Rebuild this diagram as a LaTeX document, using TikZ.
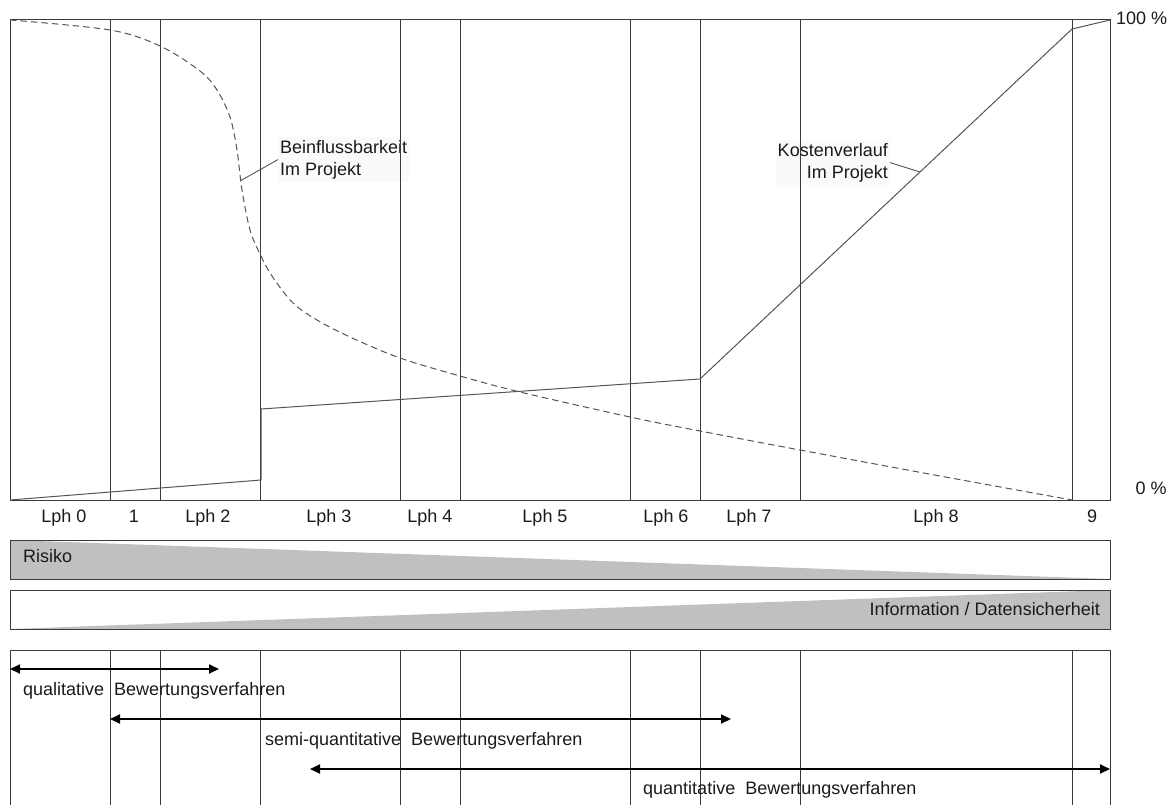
\documentclass[tikz,border=0pt]{standalone}
\usepackage{fontspec}
\setmainfont{Liberation Sans}
\usetikzlibrary{arrows.meta}
\definecolor{barfill}{HTML}{C0C0C0}
\definecolor{framecol}{HTML}{3A3A3A}
\definecolor{curvecol}{HTML}{555555}
\definecolor{textcol}{HTML}{1A1A1A}
\definecolor{notefill}{HTML}{FAFAFA}
\begin{document}
\begin{tikzpicture}[x=1pt,y=-1pt,
  every node/.style={font=\fontsize{18}{22}\selectfont, text=textcol, inner sep=0pt},
  label/.style={text height=13pt, text depth=3.5pt},
  frameline/.style={draw=framecol, line width=1pt},
  gridline/.style={draw=framecol, line width=0.9pt},
  costline/.style={draw=curvecol, line width=1pt, line join=round},
  influence/.style={draw=curvecol, line width=1pt, dash pattern=on 6.5pt off 4pt},
  leader/.style={draw=curvecol, line width=0.9pt},
  band/.style={draw=framecol, line width=1pt},
  wedge/.style={fill=barfill, draw=none},
  span/.style={draw=black, line width=1.8pt,
    {Triangle[length=10pt,width=9pt]}-{Triangle[length=10pt,width=9pt]}},
  note/.style={fill=notefill, inner xsep=2pt, inner ysep=3pt}]
\useasboundingbox (0,0) rectangle (1175,805);

% ---------- annotation texts (drawn first, grid lines run over them)
\node[note, align=left, anchor=north west] (beinfl) at (278,137)
  {Beinflussbarkeit\\Im Projekt};
\node[note, align=right, anchor=north east] (kosten) at (890,140)
  {Kostenverlauf\\Im Projekt};

% ---------- upper chart frame and phase boundaries
\draw[frameline] (10,20) rectangle (1110,500);
\foreach \x in {110,160,260,400,460,630,700,800,1072}
  \draw[gridline] (\x,20) -- (\x,500);

% ---------- cost curve
\draw[costline] (10,500) -- (261,480) -- (261,409) -- (700,379)
  -- (1072,29) -- (1110,20);

% ---------- influence curve
\draw[influence] plot[smooth, tension=0.55] coordinates {
  (10,20) (110,30) (160,46) (200,71) (217,90) (230,117) (237,150)
  (242,190) (250,230) (260,254) (272,276) (293,303) (317,320)
  (350,337) (400,358) (460,376) (520,392) (630,417) (700,431)
  (800,450) (940,476) (1072,500)};

% ---------- leaders from the notes to the curves
\coordinate (bcurve) at (240,181);
\coordinate (kcurve) at (920,172);
\draw[leader] (beinfl.west) -- (bcurve);
\draw[leader] (kosten.east) -- (kcurve);

% ---------- axis labels
\node[label, anchor=west] (p100) at (1116,20) {100 \%};
\node[label] (p0) at (1151,490) {0 \%};

% ---------- phase labels
\node[label] (lph0) at (64,518) {Lph 0};
\node[label] (lph1) at (134,518) {1};
\node[label] (lph2) at (208,518) {Lph 2};
\node[label] (lph3) at (329,518) {Lph 3};
\node[label] (lph4) at (430,518) {Lph 4};
\node[label] (lph5) at (545,518) {Lph 5};
\node[label] (lph6) at (666,518) {Lph 6};
\node[label] (lph7) at (749,518) {Lph 7};
\node[label] (lph8) at (936,518) {Lph 8};
\node[label] (lph9) at (1092,518) {9};

% ---------- risk band (decreasing)
\fill[wedge] (10,540) -- (1110,579) -- (10,579) -- cycle;
\draw[band] (10,540) rectangle (1110,579);
\node[label, anchor=west] (risiko) at (23,558) {Risiko};

% ---------- information band (increasing)
\fill[wedge] (10,629) -- (1110,590) -- (1110,629) -- cycle;
\draw[band] (10,590) rectangle (1110,629);
\node[label, anchor=east] (info) at (1100,611) {Information / Datensicherheit};

% ---------- lower frame, open at the bottom
\draw[frameline] (10,805) -- (10,650) -- (1110,650) -- (1110,805);
\foreach \x in {110,160,260,400,460,630,700,800,1072}
  \draw[gridline] (\x,650) -- (\x,805);

% ---------- method ranges
\coordinate (qlA) at (10,669);  \coordinate (qlB) at (219,669);
\coordinate (sqA) at (110,719); \coordinate (sqB) at (731,719);
\coordinate (qnA) at (310,769); \coordinate (qnB) at (1110,769);
\draw[span] (qlA) -- (qlB);
\draw[span] (sqA) -- (sqB);
\draw[span] (qnA) -- (qnB);
\node[label, anchor=west] (qltext) at (23,691) {qualitative~~Bewertungsverfahren};
\node[label, anchor=west] (sqtext) at (265,741) {semi-quantitative~~Bewertungsverfahren};
\node[label, anchor=west] (qntext) at (643,790) {quantitative~~Bewertungsverfahren};
\end{tikzpicture}
\end{document}
